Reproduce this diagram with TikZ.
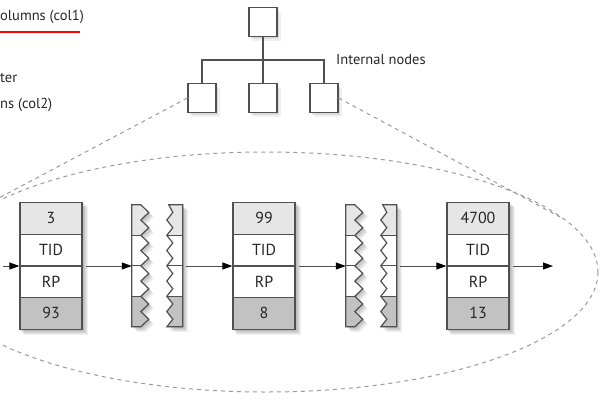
\documentclass[tikz,border=0pt]{standalone}
\usepackage{fontspec}
\setmainfont{PT Sans}
\usetikzlibrary{arrows.meta,shapes.multipart,shadows,backgrounds,positioning}

\definecolor{boxline}{HTML}{505050}
\definecolor{toprow}{HTML}{E6E6E6}
\definecolor{botrow}{HTML}{C2C2C2}
\definecolor{txt}{HTML}{262626}
\definecolor{conegray}{HTML}{9A9A9A}

\newcommand\cell[1]{\rule[-10pt]{0pt}{30.5pt}#1}
\newcommand\leftpiece{(0,0) -- (9,0) \foreach \k in {1,...,8} {-- (17,{\k*15.25-7.6}) -- (9,{\k*15.25})} -- (0,122) -- cycle}
\newcommand\rightpiece{(51,0) -- (37,0) \foreach \k in {1,...,8} {-- (41,{\k*15.25-7.6}) -- (35,{\k*15.25})} -- (51,122) -- cycle}
\newcommand\piecefill[1]{%
  \foreach \s in {1,...,5} {\fill[black,opacity=.06,shift={(\s,\s)}] #1;}
  \begin{scope}
    \clip #1;
    \fill[toprow] (0,0) rectangle (51,30.5);
    \fill[white] (0,30.5) rectangle (51,91.5);
    \fill[botrow] (0,91.5) rectangle (51,122);
    \draw[boxline,line width=1.2pt] (0,30.5) -- (51,30.5) (0,61) -- (51,61) (0,91.5) -- (51,91.5);
  \end{scope}
  \draw[boxline,line width=1.2pt] #1;}
\newcommand\drawgap[1]{%
  \begin{scope}[shift={(#1.north west)}]
    \piecefill{\leftpiece}
    \piecefill{\rightpiece}
  \end{scope}}

\tikzset{
  softshadow/.style={drop shadow={shadow xshift=2pt,shadow yshift=-2pt,opacity=.18},
    drop shadow={shadow xshift=4pt,shadow yshift=-4pt,opacity=.12}},
  record/.style={rectangle split, rectangle split parts=4, draw=boxline, line width=1.2pt,
    minimum width=62pt, inner xsep=0pt, inner ysep=0pt, text=txt,
    rectangle split part fill={toprow,white,white,botrow},
    font=\fontsize{16}{18}\selectfont},
  gapbox/.style={minimum width=51pt, minimum height=122pt, inner sep=0pt},
  treebox/.style={draw=boxline, fill=white, line width=1.2pt, minimum width=28pt,
    minimum height=29pt, inner sep=0pt, softshadow},
  link/.style={draw=boxline, line width=1pt, shorten <=3pt, -{Triangle[length=10pt,width=7pt,black]}},
  cone/.style={draw=conegray, line width=1pt, dash pattern=on 4pt off 4pt},
  label/.style={text=txt, font=\fontsize{14.5}{17}\selectfont, inner sep=0pt}
}

\begin{document}
\begin{tikzpicture}[x=1pt,y=-1pt]
    \useasboundingbox (0,0) rectangle (600,400);

    % Draw left notes (cut off)
    \node[label,anchor=west] (col1) at (0,17) {olumns (col1)};
    \draw[red,line width=1.5pt] (0,32) -- (80,32);
    \node[label,anchor=west] (ter) at (0,78) {ter};
    \node[label,anchor=west] (col2) at (0,105) {ns (col2)};

    % Draw zoom lines
    \coordinate (coneL) at (-20,208);
    \coordinate (coneR) at (560,217);
    \draw[cone] (266,272) ellipse [x radius=332, y radius=120];

    % Draw internal nodes
    \node[treebox] (root) at (263,22) {};
    \node[treebox] (c1) at (202,98) {};
    \node[treebox] (c2) at (263,98) {};
    \node[treebox] (c3) at (324,98) {};
    \coordinate (bar) at (0,60);
    \draw[cone] (c1.west) -- (coneL);
    \draw[cone] (c3.east) -- (coneR);
    \draw[boxline,line width=1.2pt] (root.south) -- (c2.north);
    \draw[boxline,line width=1.2pt] (c1.north) -- (c1.north |- bar) -- (c3.north |- bar) -- (c3.north);
    \node[label,anchor=west] (inner) at (336,60) {Internal nodes};

    % Draw leaf records
    \node[record] (r1) at (51,266) {\cell{3} \nodepart{two} \cell{TID} \nodepart{three} \cell{RP} \nodepart{four} \cell{93}};
    \node[gapbox] (g1) at (157.5,266) {};
    \node[record] (r2) at (264,266) {\cell{99} \nodepart{two} \cell{TID} \nodepart{three} \cell{RP} \nodepart{four} \cell{8}};
    \node[gapbox] (g2) at (371.5,266) {};
    \node[record] (r3) at (478,266) {\cell{4700} \nodepart{two} \cell{TID} \nodepart{three} \cell{RP} \nodepart{four} \cell{13}};
    \drawgap{g1}
    \drawgap{g2}

    % Draw record shadows
    \begin{scope}[on background layer]
        \foreach \r in {r1,r2,r3}
            \foreach \s in {1,...,5}
                \fill[black,opacity=.06] ([shift={(\s,\s)}]\r.north west) rectangle ([shift={(\s,\s)}]\r.south east);
    \end{scope}

    % Draw links
    \coordinate (in) at (0,266);
    \coordinate (out) at (553,266);
    \draw[link] (in) -- (r1.west);
    \draw[link] (r1.east) -- (g1.west);
    \draw[link] (g1.east) -- (r2.west);
    \draw[link] (r2.east) -- (g2.west);
    \draw[link] (g2.east) -- (r3.west);
    \draw[link] (r3.east) -- (out);

\end{tikzpicture}
\end{document}
